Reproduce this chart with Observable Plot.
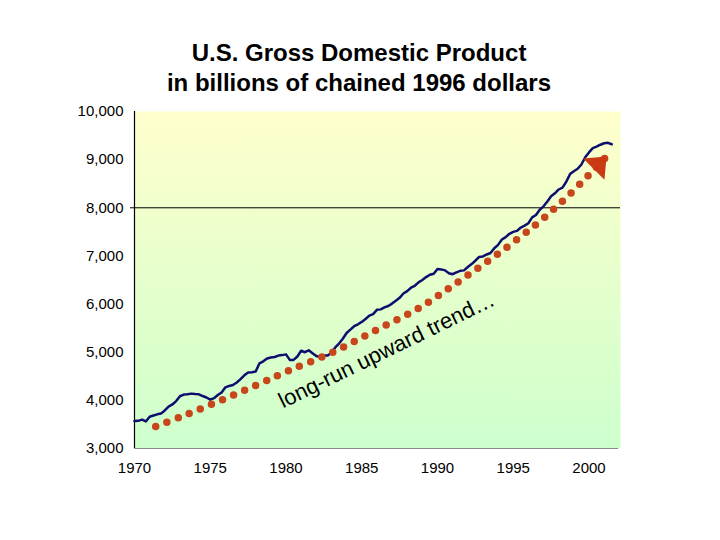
<!DOCTYPE html>
<html>
<head>
<meta charset="utf-8">
<script src="https://cdn.jsdelivr.net/npm/d3@7"></script>
<script src="https://cdn.jsdelivr.net/npm/@observablehq/plot@0.6"></script>
<style>
  html, body { margin: 0; padding: 0; background: #ffffff; }
  #wrap { position: relative; width: 720px; height: 540px; }
  #title {
    position: absolute; left: 0; top: 38px; width: 718px;
    text-align: center; font: bold 24px/30px "Liberation Sans", Arial, sans-serif; color: #000;
  }
  #chart { position: absolute; left: 0; top: 0; }
</style>
</head>
<body>
<div id="wrap">
  <div id="chart"></div>
  <div id="title">U.S. Gross Domestic Product<br>in billions of chained 1996 dollars</div>
</div>
<script>
// Real GDP, quarterly from 1970 Q1, billions of chained 1996 dollars
const gdpStartYear = 1970;
const gdpQuarterly = [
  3570, 3575, 3600, 3562,   // 1970
  3660, 3685, 3710, 3725,   // 1971
  3790, 3870, 3915, 3985,   // 1972
  4085, 4120, 4125, 4140,   // 1973
  4130, 4125, 4090, 4060,   // 1974
  4015, 4045, 4110, 4165,   // 1975
  4270, 4300, 4320, 4370,   // 1976
  4440, 4520, 4580, 4585,   // 1977
  4600, 4770, 4810, 4870,   // 1978
  4890, 4900, 4930, 4940,   // 1979
  4955, 4840, 4840, 4910,   // 1980
  5030, 5000, 5040, 4980,   // 1981
  4920, 4900, 4930, 4930,   // 1982
  4990, 5100, 5180, 5280,   // 1983
  5400, 5470, 5540, 5580,   // 1984
  5630, 5690, 5760, 5790,   // 1985
  5880, 5890, 5930, 5960,   // 1986
  6010, 6070, 6130, 6220,   // 1987
  6270, 6340, 6380, 6450,   // 1988
  6500, 6560, 6610, 6630,   // 1989
  6730, 6720, 6700, 6640,   // 1990
  6620, 6660, 6690, 6700,   // 1991
  6770, 6830, 6900, 6980,   // 1992
  6990, 7030, 7060, 7160,   // 1993
  7230, 7340, 7390, 7460,   // 1994
  7500, 7520, 7590, 7630,   // 1995
  7680, 7800, 7850, 7960,   // 1996
  8030, 8130, 8240, 8300,   // 1997
  8380, 8420, 8540, 8700,   // 1998
  8760, 8810, 8900, 9050,   // 1999
  9150, 9240, 9270, 9310,   // 2000
  9340, 9350, 9320          // 2001
];

// Hand-drawn trend path (year, value) ending at the arrow tip
const trendYears  = [1971.4, 1973.0, 1975.1, 1978.0, 1980.2, 1983.1, 1985.9, 1988.8, 1991.4, 1994.0, 1996.5, 1998.3, 2000.0, 2001.16];
const trendValues = [3457,   3650,   3920,   4309,   4620,   5000,   5451,   5923,   6469,   7045,   7653,   8152,   8685,   9066];

const trendLabel = "long-run upward trend…";
const trendLabelAt = {year: 1979.6, value: 3962};

const xTicks = [1970, 1975, 1980, 1985, 1990, 1995, 2000];
const yTicks = [3000, 4000, 5000, 6000, 7000, 8000, 9000, 10000];
const referenceLevel = 8000;

const gdp = gdpQuarterly.map((v, i) => ({year: gdpStartYear + i / 4, value: v}));
const trend = trendYears.map((y, i) => ({year: y, value: trendValues[i]}));
const trendEnd = [trend[trend.length - 1]];

const trendColor = "#C8461B";

// Wide arrowhead with its tip at the origin, pointing up
const arrowHead = {
  draw(context) {
    context.moveTo(0, 0);
    context.lineTo(15, 18);
    context.lineTo(-15, 18);
    context.closePath();
  }
};

// Vertical yellow-to-green background gradient
function gradientDefs() {
  const ns = "http://www.w3.org/2000/svg";
  const defs = document.createElementNS(ns, "defs");
  defs.innerHTML =
    '<linearGradient id="bgGrad" x1="0" y1="0" x2="0" y2="1">' +
    '<stop offset="0" stop-color="#FFFFCC"/>' +
    '<stop offset="1" stop-color="#CCFFCC"/>' +
    '</linearGradient>';
  return defs;
}

const chart = Plot.plot({
  width: 720,
  height: 540,
  marginLeft: 134,
  marginRight: 100,
  marginTop: 111,
  marginBottom: 92,
  style: {fontFamily: '"Liberation Sans", Arial, sans-serif', background: "transparent", color: "#000"},
  x: {domain: [1970, 2002.08]},
  y: {domain: [3000, 10000]},
  marks: [
    gradientDefs,
    Plot.frame({fill: "url(#bgGrad)", stroke: "none"}),
    Plot.axisX({ticks: xTicks, tickFormat: d => String(d), tickSize: 0, tickPadding: 14, fontSize: 15, label: null}),
    Plot.axisY({ticks: yTicks, tickFormat: d3.format(","), tickSize: 0, tickPadding: 11, fontSize: 15, label: null}),
    Plot.ruleY([referenceLevel], {stroke: "#000", strokeWidth: 1, insetLeft: -4}),
    Plot.ruleY([3000], {stroke: "#8c8c8c", strokeWidth: 1.2, insetRight: 2}),
    Plot.ruleX([1970], {stroke: "#000", strokeWidth: 1.2}),
    Plot.line(gdp, {x: "year", y: "value", stroke: "#0E0E6E", strokeWidth: 2.5, strokeLinejoin: "round"}),
    Plot.line(trend, {
      x: "year", y: "value", curve: "catmull-rom",
      stroke: trendColor, strokeWidth: 7.5, strokeLinecap: "round", strokeDasharray: "0 12"
    }),
    Plot.dot(trendEnd, {x: "year", y: "value", symbol: arrowHead, rotate: 45, fill: "#C93A12", stroke: "none"}),
    Plot.text([trendLabel], {
      x: () => trendLabelAt.year, y: () => trendLabelAt.value,
      text: d => d, rotate: -26, textAnchor: "start", lineAnchor: "middle",
      fontSize: 22, fill: "#000"
    })
  ]
});

document.getElementById("chart").appendChild(chart);
</script>
</body>
</html>
